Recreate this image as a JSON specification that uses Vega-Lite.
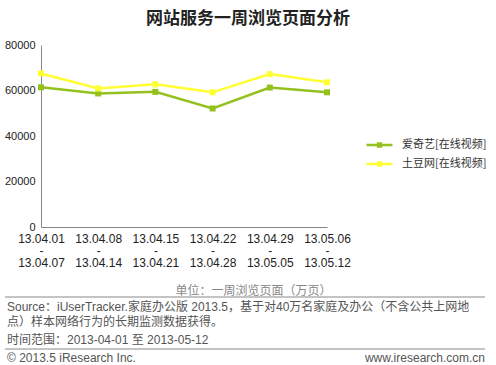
{
  "$schema": "https://vega.github.io/schema/vega-lite/v6.json",
  "autosize": "none",
  "width": 286,
  "height": 182,
  "padding": {"left": 41, "top": 45, "right": 169, "bottom": 138},
  "background": "white",
  "config": {
    "view": {"stroke": null},
    "font": "Liberation Sans, Noto Sans CJK SC"
  },
  "title": {
    "text": "网站服务一周浏览页面分析",
    "font": "Noto Sans CJK SC",
    "fontSize": 17,
    "fontWeight": "bold",
    "color": "#222222",
    "anchor": "middle",
    "frame": "group",
    "dx": 64,
    "offset": 11
  },
  "layer": [
    {
      "data": {
        "values": [
          {"week": "13.04.01 - 13.04.07", "site": "爱奇艺[在线视频]", "value": 61400},
          {"week": "13.04.08 - 13.04.14", "site": "爱奇艺[在线视频]", "value": 58700},
          {"week": "13.04.15 - 13.04.21", "site": "爱奇艺[在线视频]", "value": 59400},
          {"week": "13.04.22 - 13.04.28", "site": "爱奇艺[在线视频]", "value": 52100},
          {"week": "13.04.29 - 13.05.05", "site": "爱奇艺[在线视频]", "value": 61300},
          {"week": "13.05.06 - 13.05.12", "site": "爱奇艺[在线视频]", "value": 59200},
          {"week": "13.04.01 - 13.04.07", "site": "土豆网[在线视频]", "value": 67500},
          {"week": "13.04.08 - 13.04.14", "site": "土豆网[在线视频]", "value": 60900},
          {"week": "13.04.15 - 13.04.21", "site": "土豆网[在线视频]", "value": 62700},
          {"week": "13.04.22 - 13.04.28", "site": "土豆网[在线视频]", "value": 59200},
          {"week": "13.04.29 - 13.05.05", "site": "土豆网[在线视频]", "value": 67200},
          {"week": "13.05.06 - 13.05.12", "site": "土豆网[在线视频]", "value": 63600}
        ]
      },
      "mark": {
        "type": "line",
        "strokeWidth": 2.5,
        "point": {"shape": "square", "size": 36, "filled": true, "opacity": 1}
      },
      "encoding": {
        "x": {
          "field": "week",
          "type": "ordinal",
          "sort": null,
          "scale": {"type": "point", "padding": 0},
          "axis": {
            "labelAngle": 0,
            "ticks": false,
            "domainColor": "#888888",
            "labelExpr": "split(datum.value, ' ')",
            "labelLineHeight": 12,
            "labelPadding": 6,
            "labelFontSize": 12,
            "labelColor": "#222222",
            "labelFont": "Liberation Sans",
            "title": "单位：一周浏览页面（万页）",
            "titleFont": "Noto Sans CJK SC",
            "titleFontSize": 12,
            "titleFontWeight": "normal",
            "titleColor": "#888888",
            "titleX": 212,
            "titleY": 58,
            "titleAnchor": "middle"
          }
        },
        "y": {
          "field": "value",
          "type": "quantitative",
          "scale": {"domain": [0, 80000]},
          "axis": {
            "values": [0, 20000, 40000, 60000, 80000],
            "format": "d",
            "ticks": false,
            "grid": false,
            "domainColor": "#888888",
            "labelFontSize": 11,
            "labelColor": "#222222",
            "labelPadding": 6,
            "labelFont": "Liberation Sans",
            "title": null
          }
        },
        "color": {
          "field": "site",
          "type": "nominal",
          "sort": null,
          "scale": {
            "domain": ["爱奇艺[在线视频]", "土豆网[在线视频]"],
            "range": ["#95C11F", "#FFFF33"]
          },
          "legend": {
            "title": null,
            "orient": "none",
            "legendX": 330.5,
            "legendY": 92,
            "padding": 0,
            "symbolType": "M-2,0H2M-0.22,-0.22H0.22V0.22H-0.22Z",
            "symbolSize": 169,
            "symbolStrokeWidth": 2.5,
            "labelOffset": 14.5,
            "rowPadding": 4,
            "labelFont": "Noto Sans CJK SC",
            "labelFontSize": 11,
            "labelColor": "#333333"
          }
        }
      }
    },
    {
      "data": {"values": [{}]},
      "mark": {"type": "rule", "color": "#888888", "strokeWidth": 1},
      "encoding": {"x": {"value": -36}, "x2": {"value": 444}, "y": {"value": 252}}
    },
    {
      "data": {"values": [{}]},
      "mark": {"type": "rule", "color": "#888888", "strokeWidth": 1},
      "encoding": {"x": {"value": -36}, "x2": {"value": 444}, "y": {"value": 304}}
    },
    {
      "data": {"values": [{}]},
      "mark": {
        "type": "text",
        "text": ["Source：iUserTracker.家庭办公版 2013.5，基于对40万名家庭及办公（不含公共上网地", "点）样本网络行为的长期监测数据获得。"],
        "align": "left",
        "baseline": "middle",
        "fontSize": 12,
        "lineHeight": 15,
        "color": "#555555"
      },
      "encoding": {"x": {"value": -34}, "y": {"value": 262}}
    },
    {
      "data": {"values": [{}]},
      "mark": {
        "type": "text",
        "text": "时间范围：2013-04-01 至 2013-05-12",
        "align": "left",
        "baseline": "middle",
        "fontSize": 12,
        "color": "#555555"
      },
      "encoding": {"x": {"value": -34}, "y": {"value": 295}}
    },
    {
      "data": {"values": [{}]},
      "mark": {
        "type": "text",
        "text": "© 2013.5 iResearch Inc.",
        "align": "left",
        "baseline": "middle",
        "fontSize": 12,
        "color": "#555555"
      },
      "encoding": {"x": {"value": -34}, "y": {"value": 313}}
    },
    {
      "data": {"values": [{}]},
      "mark": {
        "type": "text",
        "text": "www.iresearch.com.cn",
        "align": "right",
        "baseline": "middle",
        "fontSize": 12,
        "color": "#555555"
      },
      "encoding": {"x": {"value": 444}, "y": {"value": 313}}
    }
  ]
}
